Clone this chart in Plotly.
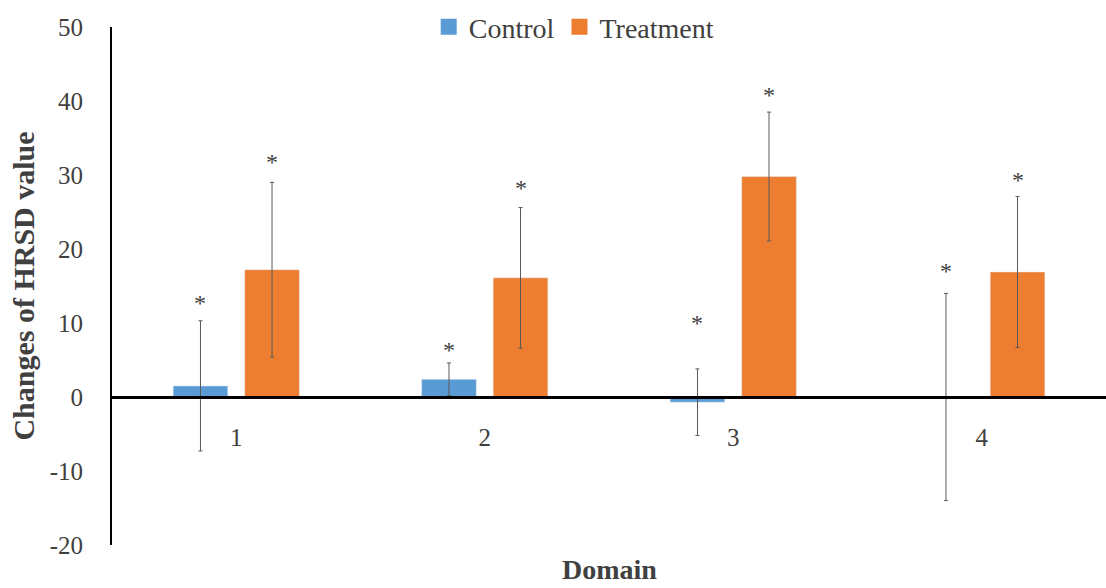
import plotly.graph_objects as go

domains = [1, 2, 3, 4]
control = [1.5, 2.4, -0.7, 0.0]
control_err = [8.8, 2.2, 4.5, 14.0]
treatment = [17.2, 16.1, 29.8, 16.9]
treatment_err = [11.8, 9.5, 8.7, 10.2]
control_star_y = [12.7, 6.4, 10.0, 17.0]
treatment_star_y = [31.8, 28.3, 40.8, 29.3]
y_ticks = [-20, -10, 0, 10, 20, 30, 40, 50]
y_tick_text = ["-20", "-10", "0", "10", "20", "30", "40", "50"]

BLUE = "#5B9BD5"
ORANGE = "#ED7D31"
GRAY = "#404040"
FONT = "Liberation Serif"

fig = go.Figure()
fig.add_trace(go.Bar(
    x=domains, y=control, name="Control", marker_color=BLUE,
    width=0.22, offset=-0.254, showlegend=False,
    error_y=dict(type="data", array=control_err, visible=True,
                 thickness=1, width=2, color="#595959"),
))
fig.add_trace(go.Bar(
    x=domains, y=treatment, name="Treatment", marker_color=ORANGE,
    width=0.22, offset=0.034, showlegend=False,
    error_y=dict(type="data", array=treatment_err, visible=True,
                 thickness=1, width=2, color="#595959"),
))
# legend entries with larger square swatches
for name, col in [("Control", BLUE), ("Treatment", ORANGE)]:
    fig.add_trace(go.Scatter(x=[None], y=[None], mode="markers", name=name,
                             marker=dict(symbol="square", size=16, color=col)))

for d, sy in zip(domains, control_star_y):
    fig.add_annotation(x=d - 0.144, y=sy, text="*", showarrow=False,
                       font=dict(family=FONT, size=24, color=GRAY),
                       yanchor="middle")
for d, sy in zip(domains, treatment_star_y):
    fig.add_annotation(x=d + 0.144, y=sy, text="*", showarrow=False,
                       font=dict(family=FONT, size=24, color=GRAY),
                       yanchor="middle")

fig.update_layout(
    width=1106, height=588,
    margin=dict(l=112, r=0, t=27, b=43),
    plot_bgcolor="white", paper_bgcolor="white",
    showlegend=True,
    legend=dict(orientation="h", x=0.465, xanchor="center", y=1.0,
                yanchor="middle", font=dict(family=FONT, size=28, color=GRAY),
                bgcolor="rgba(0,0,0,0)", itemwidth=30),
    xaxis=dict(
        range=[0.5, 4.5], tickvals=domains, ticktext=[str(d) for d in domains],
        anchor="free", position=20 / 70,
        showline=True, linecolor="black", linewidth=3,
        ticks="outside", ticklen=17, tickcolor="rgba(0,0,0,0)",
        tickfont=dict(family=FONT, size=25, color=GRAY),
        showgrid=False, zeroline=False,
    ),
    yaxis=dict(
        range=[-20, 50], tickvals=y_ticks, ticktext=y_tick_text,
        showline=True, linecolor="black", linewidth=2,
        ticks="outside", ticklen=22, tickcolor="rgba(0,0,0,0)",
        tickfont=dict(family=FONT, size=25, color=GRAY),
        showgrid=False, zeroline=False,
        title=dict(text="<b>Changes of HRSD value</b>",
                   font=dict(family=FONT, size=30, color=GRAY), standoff=6),
    ),
)
fig.add_annotation(xref="paper", yref="paper", x=0.5, y=0, yshift=-42,
                   yanchor="bottom", text="<b>Domain</b>", showarrow=False,
                   font=dict(family=FONT, size=28, color=GRAY))

fig.write_html("out.html")
